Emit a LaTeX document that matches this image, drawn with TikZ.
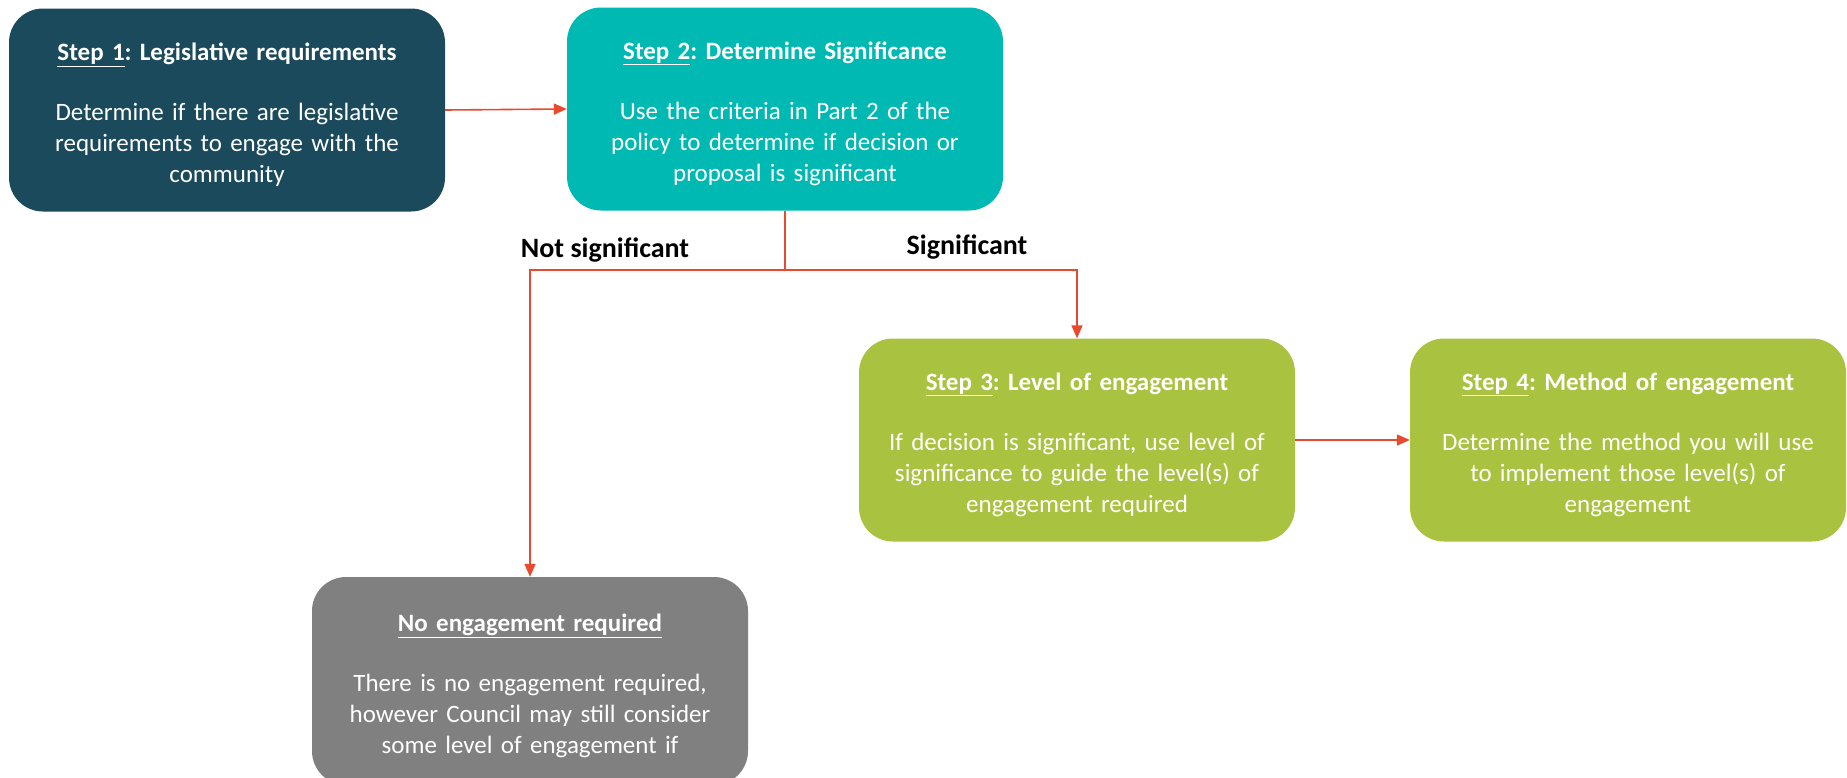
\documentclass[tikz,border=0pt]{standalone}
\usepackage{fontspec}
\setmainfont{Carlito}
\usetikzlibrary{arrows.meta}
\definecolor{stepone}{HTML}{1A4A5C}
\definecolor{steptwo}{HTML}{00B9B2}
\definecolor{stepgreen}{HTML}{A9C23F}
\definecolor{stepgray}{HTML}{808080}
\definecolor{linered}{HTML}{E8492F}
\newcommand{\toprule}{\rule{0pt}{27pt}}
\tikzset{
  box/.style={rectangle, rounded corners=34pt, minimum width=436pt, minimum height=203pt,
    text width=400pt, align=center, text=white, inner sep=0pt,
    font=\frenchspacing\fontsize{25}{31}\selectfont},
  conn/.style={draw=linered, line width=1.6pt},
  arr/.style={conn, -{Triangle[length=13pt,width=11pt]}},
  lbl/.style={font=\fontsize{28}{32}\selectfont\bfseries, text=black, inner sep=0pt}
}
\begin{document}
\begin{tikzpicture}[x=1pt,y=-1pt]
\clip (0,0) rectangle (1847,777);
\fill[white] (0,0) rectangle (1847,777);
\node[box, fill=stepone] (s1) at (227,110)
  {\toprule\textbf{\underline{Step 1}: Legislative requirements}\\[29pt]
   Determine if there are legislative\\ requirements to engage with the\\ community};
\node[box, fill=steptwo] (s2) at (785,109)
  {\toprule\textbf{\underline{Step 2}: Determine Significance}\\[29pt]
   Use the criteria in Part 2 of the\\ policy to determine if decision or\\ proposal is significant};
\node[box, fill=stepgreen] (s3) at (1077,440)
  {\toprule\textbf{\underline{Step 3}: Level of engagement}\\[29pt]
   If decision is significant, use level of\\ significance to guide the level(s) of\\ engagement required};
\node[box, fill=stepgreen] (s4) at (1628,440)
  {\toprule\textbf{\underline{Step 4}: Method of engagement}\\[29pt]
   Determine the method you will use\\ to implement those level(s) of\\ engagement};
\node[box, fill=stepgray, minimum height=208pt] (ne) at (530,681)
  {\toprule\textbf{\underline{No engagement required}}\\[29pt]
   There is no engagement required,\\ however Council may still consider\\ some level of engagement if};
\draw[arr] (s1.east) -- (s2.west);
\draw[conn] (s2.south) -- ++(0,59) coordinate (j);
\draw[arr] (j) -| (s3.north);
\draw[arr] (j) -| (ne.north);
\draw[arr] (s3.east) -- (s4.west);
\node[lbl] (ns) at (605,250) {Not significant};
\node[lbl] (sg) at (967,247) {Significant};
\end{tikzpicture}
\end{document}
